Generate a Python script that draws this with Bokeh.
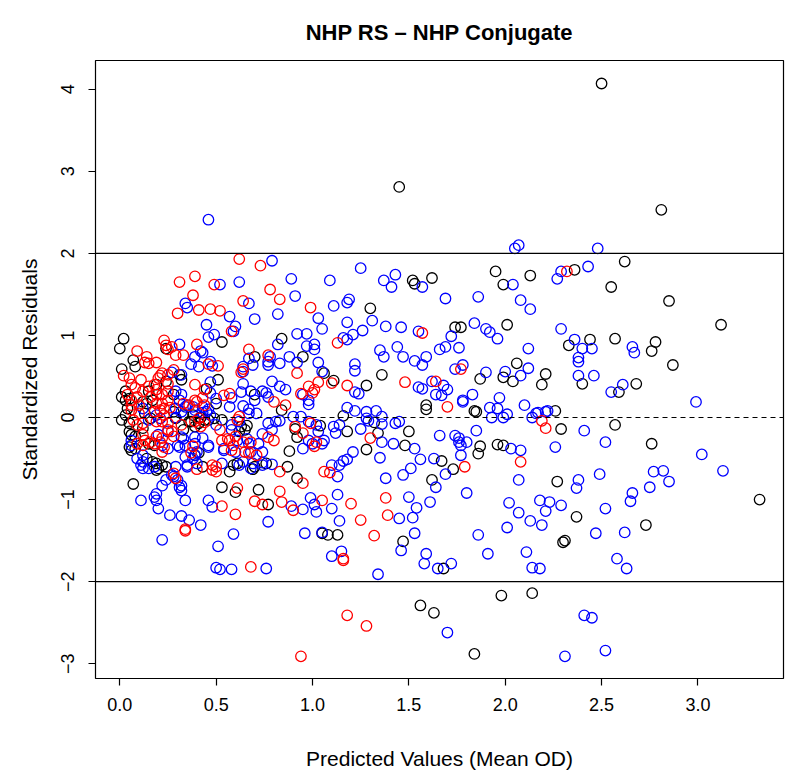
from bokeh.plotting import figure
from bokeh.models import Range1d, Span, FixedTicker, NumeralTickFormatter, CustomJSTickFormatter
from bokeh.embed import file_html
from bokeh.resources import INLINE

# ---- data (predicted value, standardized residual) per group ----
black_pts = [
 (2.50,4.07),(1.45,2.81),(2.81,2.53),
 (2.62,1.90),(2.36,1.80),(2.55,1.59),(2.85,1.42),(3.12,1.13),(2.44,0.95),(2.57,0.96),(2.33,0.88),
 (2.78,0.92),(2.76,0.81),(2.87,0.64),(2.21,0.53),(2.19,0.40),(2.40,0.41),(2.59,0.31),(2.68,0.41),
 (2.26,0.08),(2.29,-0.14),(2.57,-0.09),(2.76,-0.32),(3.32,-1.00),(2.27,-0.78),(2.37,-1.21),(2.73,-1.31),
 (2.30,-1.52),(2.31,-1.50),(1.98,-2.17),(2.14,-2.14),(1.56,-2.29),(1.63,-2.38),(1.84,-2.88),(1.68,-1.84),
 (1.52,1.67),(1.53,1.63),(1.62,1.70),(1.95,1.78),(1.99,1.62),(2.13,1.73),(1.30,1.33),(1.74,1.10),(1.77,1.10),
 (2.01,1.13),(1.06,0.54),(1.11,0.45),(1.28,0.39),(1.36,0.52),(1.87,0.47),(1.99,0.49),(2.04,0.44),(2.06,0.66),
 (1.59,0.15),(1.59,0.10),(1.84,0.08),(1.85,0.07),(1.16,0.02),(1.04,-0.10),(1.18,-0.17),(1.32,-0.06),(1.34,-0.19),
 (1.50,-0.17),(1.28,-0.39),(1.48,-0.34),(1.87,-0.35),(1.86,-0.44),(1.96,-0.33),(1.99,-0.34),(1.67,-0.53),
 (1.73,-0.63),(1.62,-0.76),(1.05,-1.41),(1.08,-1.43),(1.13,-1.43),(1.47,-1.51),
 (0.53,0.92),(0.84,0.96),(0.02,0.96),(0.00,0.84),(0.07,0.70),(0.08,0.62),(0.24,0.84),(0.31,0.52),(0.01,0.59),
 (0.51,0.46),(0.45,0.35),(0.70,0.74),(0.95,0.74),(0.19,0.40),(0.28,0.28),(0.84,0.09),(0.66,-0.10),(0.50,0.17),
 (0.37,-0.05),(0.39,-0.11),(0.41,-0.07),(0.28,0.07),(0.65,-0.15),(0.62,-0.17),(0.88,-0.41),(0.91,-0.14),
 (0.92,-0.24),(0.41,-0.43),(0.07,-0.81),(0.53,-0.85),(0.60,-0.91),(0.72,-0.88),(0.77,-1.06),(0.92,-0.74),
 (0.87,-0.60),(0.69,-0.63),(0.76,-0.56),(0.57,-0.66),(0.61,-0.56),(0.43,-0.60),
 (0.24,0.44),(0.32,0.46),(0.15,0.32),(0.03,0.32),(0.03,0.21),(0.05,0.23),(0.01,0.25),(0.12,0.19),(0.14,0.17),
 (0.17,0.21),(0.04,0.11),(0.03,0.03),(0.01,-0.03),(0.05,-0.07),(0.13,0.05),(0.16,-0.01),(0.12,-0.13),(0.29,-0.01),
 (0.05,-0.17),(0.06,-0.21),(0.08,-0.23),(0.05,-0.36),(0.06,-0.40),(0.08,-0.38),(0.15,-0.32),(0.18,-0.34),
 (0.14,-0.50),(0.17,-0.54),(0.19,-0.56),(0.22,-0.58),(0.24,-0.60),(0.20,-0.62),(0.19,-0.64),
 (0.70,0.28),(0.53,-0.03),(0.49,-0.01),(0.63,-0.11),(0.59,-0.58),(0.70,-0.60),(0.39,-0.46),(0.46,-0.03),
 (0.33,-0.15),(0.36,-0.05),(0.33,0.03),(0.38,0.03),(0.42,0.00),(0.44,-0.03),
]

blue_pts = [
 (0.46,2.41),(2.05,2.06),(2.07,2.10),(2.48,2.06),
 (2.29,1.78),(2.27,1.69),(2.43,1.84),(2.29,1.08),(2.36,0.95),(2.40,0.84),(2.45,0.84),(2.66,0.86),(2.67,0.79),
 (2.38,0.73),(2.38,0.68),(2.38,0.51),(2.46,0.51),(2.61,0.40),(2.55,0.31),(2.99,0.19),(2.17,0.06),(2.22,0.08),
 (2.41,-0.16),(2.26,-0.36),(2.52,-0.30),(3.02,-0.45),(3.13,-0.65),(2.38,-0.76),(2.37,-0.86),(2.49,-0.69),
 (2.77,-0.66),(2.82,-0.65),(2.85,-0.78),(2.75,-0.85),(2.66,-0.92),(2.65,-1.02),(2.18,-1.01),(2.23,-1.03),
 (2.29,-1.07),(2.21,-1.14),(2.19,-1.31),(2.52,-1.11),(2.47,-1.41),(2.62,-1.40),(2.58,-1.72),(2.63,-1.84),
 (2.18,-1.84),(2.41,-2.41),(2.45,-2.44),
 (0.50,-1.83),(0.52,-1.85),(0.58,-1.85),(0.76,-1.84),(1.34,-1.91),(1.58,-1.78),(1.65,-1.84),(1.72,-1.78),
 (2.14,-1.83),(1.70,-2.62),(2.31,-2.91),(2.52,-2.84),
 (1.18,0.12),(1.78,0.19),(1.92,0.12),(1.96,0.11),(1.93,0.00),(1.99,0.00),(2.01,0.04),(2.10,0.15),(2.16,0.05),
 (2.21,0.07),(2.14,0.00),(1.02,-0.09),(1.06,-0.28),(1.11,-0.11),(1.12,-0.19),(1.14,-0.09),(1.22,0.08),(1.28,0.07),
 (1.33,0.08),(1.25,-0.14),(1.28,-0.01),(1.29,-0.04),(1.36,0.01),(1.36,-0.08),(1.43,-0.07),(1.45,-0.05),
 (1.36,-0.30),(1.42,-0.32),(1.53,-0.38),(1.66,-0.22),(1.74,-0.22),(1.76,-0.25),(1.76,-0.30),(1.77,-0.34),
 (1.80,-0.30),(1.85,-0.16),(2.03,-0.38),(2.08,-0.40),(2.07,-0.76),
 (1.21,-0.42),(1.18,-0.51),(1.16,-0.53),(1.14,-0.58),(1.10,-0.58),(1.13,-0.72),(1.35,-0.49),(1.56,-0.51),
 (1.51,-0.62),(1.47,-0.70),(1.38,-0.74),(1.63,-0.50),(1.77,-0.46),(1.69,-0.69),(1.64,-0.85),(1.80,-0.92),
 (1.13,-0.94),(1.10,-1.11),(1.02,-1.15),(1.14,-1.26),(1.50,-0.97),(1.54,-1.10),(1.52,-1.22),(1.45,-1.23),
 (1.61,-1.03),(1.53,-1.41),(1.46,-1.62),(1.10,-1.69),(1.15,-1.63),(1.59,-1.66),(1.86,-1.43),(1.91,-1.66),
 (2.02,-1.04),(2.07,-1.16),(2.13,-1.26),(2.01,-1.34),(2.11,-1.64),
 (1.25,1.82),(1.09,1.67),(1.37,1.67),(1.41,1.59),(1.43,1.74),(1.57,1.59),(1.69,1.45),(2.04,1.62),(1.86,1.47),
 (2.08,1.43),(2.13,1.32),(1.11,1.36),(1.18,1.40),(1.19,1.44),(1.03,1.21),(1.05,1.08),(1.18,1.16),(1.26,1.06),
 (1.31,1.18),(1.38,1.11),(1.46,1.10),(1.55,1.05),(1.84,1.15),(1.90,1.08),(1.92,1.04),(1.96,0.96),(1.72,0.99),
 (1.16,0.97),(1.18,0.95),(1.21,1.01),(1.35,0.82),(1.37,0.74),(1.44,0.86),(1.47,0.74),(1.53,0.69),(1.57,0.64),
 (1.59,0.74),(1.66,0.83),(1.69,0.86),(1.76,0.85),(2.12,0.84),(1.22,0.65),(1.22,0.57),(1.22,0.31),(1.24,0.29),
 (1.55,0.37),(1.57,0.35),(1.62,0.44),(1.68,0.39),(1.70,0.34),(1.67,0.27),(1.64,0.28),(1.74,0.59),(1.78,0.64),
 (1.90,0.55),(2.00,0.56),(2.08,0.51),(2.12,0.60),(1.78,0.21),(1.83,0.28),(1.97,0.24),
 (0.79,1.91),(0.52,1.62),(0.62,1.65),(0.89,1.69),(0.91,1.48),(0.34,1.39),(0.35,1.34),(0.67,1.39),(0.82,1.26),
 (0.57,1.23),(0.70,1.20),(0.45,1.13),(0.60,1.11),(0.59,1.05),(0.49,1.01),(0.46,0.98),(0.92,1.02),(0.97,1.02),
 (1.01,0.89),(1.01,0.83),(0.82,0.89),(0.31,0.89),(0.42,0.81),(0.39,0.74),(0.41,0.62),(0.47,0.68),(0.48,0.63),
 (0.47,0.43),(0.47,0.30),(0.64,0.41),(0.67,0.72),(0.77,0.68),(0.77,0.64),(0.78,0.74),(0.83,0.66),(0.88,0.74),
 (0.92,0.67),(0.97,0.87),(1.03,0.67),(1.05,0.56),(0.79,0.44),(0.83,0.38),(0.86,0.34),(0.68,0.32),(0.70,0.21),
 (0.76,0.30),(0.77,0.25),(0.95,0.28),(0.98,0.21),(0.98,0.16),(0.50,0.23),(0.58,0.24),(0.63,0.31),(0.64,0.14),
 (0.67,0.10),(0.90,0.01),(0.94,0.01),(0.98,-0.05),(0.67,0.05),(0.62,-0.05),(0.58,-0.09),(0.50,-0.09),
 (0.32,0.07),(0.34,0.13),(0.38,0.13),(0.43,0.06),(0.46,0.10),(0.29,0.00),(0.98,-0.28),(1.03,-0.17),(0.72,-0.32),
 (0.67,-0.32),(0.74,-0.20),(0.77,-0.07),(0.81,-0.05),(0.83,-0.04),(0.79,-0.15),(0.95,-0.38),(0.46,-0.36),
 (0.34,-0.34),(0.30,-0.34),(0.39,-0.32),(0.43,-0.25),
 (0.43,0.79),(0.37,0.65),(0.69,0.64),(0.64,0.62),(0.64,0.56),(0.74,0.32),(0.57,0.13),(0.71,0.05),(0.58,-0.15),
 (0.61,-0.28),(0.66,-0.26),(0.54,-0.38),(0.60,-0.42),(0.68,-0.42),(0.74,-0.42),(0.74,-0.58),(0.69,-0.56),
 (0.68,-0.62),(0.62,-0.58),(0.53,-0.56),(0.40,-0.56),(0.38,-0.50),(0.35,-0.58),(0.34,-0.48),(0.33,-0.26),
 (0.32,-0.24),(0.39,-0.24),(0.35,0.15),(0.39,0.09),(0.43,0.13),(0.45,0.07),(0.47,0.03),
 (0.11,-1.01),(0.18,-0.97),(0.19,-1.01),(0.20,-1.11),(0.26,-1.19),(0.32,-1.20),(0.36,-1.25),(0.34,-1.01),
 (0.31,-0.85),(0.32,-0.89),(0.30,-0.76),(0.27,-0.70),(0.22,-1.49),(0.42,-1.31),(0.46,-1.01),(0.48,-1.09),
 (0.51,-1.57),(0.59,-1.42),(0.77,-1.27),(0.89,-1.08),(0.95,-1.12),(0.99,-0.98),(1.01,-1.06),(0.96,-1.41),
 (1.05,-1.40),(0.79,-0.57),(0.74,-0.55),(0.35,-0.60),(0.39,-0.46),(0.40,-0.42),(0.46,-0.34),(0.54,-0.40),
 (0.64,-0.54),(1.00,-0.32),(1.05,-0.32),
 (0.27,0.55),(0.32,0.52),(0.29,0.32),(0.32,0.28),(0.31,0.21),(0.12,0.11),(0.29,0.11),
 (0.15,-0.03),(0.19,0.03),(0.21,-0.01),(0.20,-0.21),(0.22,-0.34),(0.25,-0.17),(0.06,-0.28),(0.06,-0.34),
 (0.25,-0.38),(0.31,-0.36),(0.12,-0.46),(0.09,-0.50),(0.12,-0.54),(0.18,-0.60),(0.11,-0.58),(0.12,-0.62),
 (0.15,-0.62),(0.29,-0.60),(0.28,-0.72),(0.32,-0.83),(0.22,-0.83),(0.24,-0.76),(0.19,-0.93),
]

red_pts = [
 (0.62,1.93),(0.73,1.85),(0.31,1.65),(0.39,1.72),(0.49,1.62),(0.78,1.56),(0.38,1.49),(0.30,1.27),(0.41,1.31),
 (0.47,1.32),(0.52,1.30),(0.64,1.42),(0.83,1.44),(0.99,1.34),(0.58,1.05),(0.09,0.81),(0.14,0.74),(0.13,0.67),
 (0.19,0.67),(0.15,0.66),(0.23,0.94),(0.24,0.88),(0.27,0.86),(0.25,0.83),(0.29,0.76),(0.33,0.76),(0.40,0.89),
 (0.21,0.51),(0.25,0.52),(0.28,0.58),(0.22,0.54),(0.02,0.51),(0.05,0.48),(0.11,0.46),(0.20,0.48),(0.18,0.40),
 (0.15,0.38),(0.51,0.63),(0.39,0.40),(0.67,0.83),(0.63,0.55),(0.64,0.59),(0.77,0.76),(0.92,0.54),(0.98,0.38),
 (0.94,0.29),(1.00,0.30),(1.01,0.34),(1.03,0.43),(0.54,0.27),(0.57,0.29),(0.80,0.19),(0.86,0.15),(0.99,-0.07),
 (0.62,0.01),(0.52,-0.15),(0.39,0.21),(0.43,0.24),(0.39,-0.05),(0.44,-0.06),(0.25,0.41),(0.16,0.25),(0.19,0.28),
 (0.68,-0.30),(0.64,-0.30),(0.60,-0.23),(0.57,-0.28),(0.58,-0.40),(0.95,-0.19),(0.91,-0.11),(0.80,-0.28),
 (1.01,-0.35),(1.02,-0.30),(0.37,-0.43),(0.38,-0.35),
 (0.46,0.65),(0.44,0.34),(0.61,-0.03),(0.56,-0.26),(0.59,-0.34),(0.53,-0.28),(0.65,-0.42),(0.71,-0.46),
 (0.50,-0.60),(0.48,-0.64),(0.32,-0.09),(0.42,-0.11),(0.41,-0.01),(0.33,0.17),(0.36,0.15),(0.40,0.19),(0.44,0.15),
 (0.06,0.40),(0.08,0.36),(0.12,0.32),(0.19,0.34),(0.22,0.28),(0.25,0.32),(0.04,0.28),(0.06,0.21),(0.09,0.25),
 (0.10,0.15),(0.06,0.15),(0.19,0.17),(0.22,0.17),(0.25,0.21),(0.23,0.11),(0.26,0.12),
 (0.06,0.09),(0.10,0.05),(0.07,-0.03),(0.09,-0.09),(0.12,-0.07),(0.18,0.07),(0.21,0.09),(0.23,0.03),(0.19,-0.05),
 (0.22,-0.05),(0.25,-0.07),(0.25,-0.15),(0.27,-0.17),(0.28,-0.23),(0.22,-0.25),(0.19,-0.23),(0.12,-0.21),
 (0.13,-0.28),(0.16,-0.30),(0.18,-0.32),(0.21,-0.30),(0.09,-0.32),(0.12,-0.34),(0.23,-0.36),(0.22,-0.42),
 (0.28,-0.68),(0.29,-0.74),
 (0.34,-1.36),(0.34,-1.38),(0.53,-1.08),(0.61,-0.86),(0.60,-1.18),(0.70,-1.02),(0.74,-1.06),(0.83,-0.90),
 (0.84,-1.03),(0.90,-1.13),(0.95,-0.80),(1.06,-0.66),(0.83,-0.66),(0.50,-0.66),(0.48,-0.58),(0.40,-0.63),
 (0.67,-0.43),(0.77,-0.24),
 (0.68,-1.82),(1.16,-1.74),(1.18,-2.41),(1.28,-2.54),(0.94,-2.91),(1.70,0.13),(2.19,-0.04),(2.21,-0.13),
 (2.32,1.78),(1.30,-0.25),(2.08,-0.54),(1.09,-0.67),(1.79,-0.60),(1.05,-1.01),(1.20,-1.05),(1.25,-1.25),
 (1.38,-0.98),(1.39,-1.19),(1.32,-1.44),(1.16,-1.72),(1.57,1.03),(1.13,0.91),(1.10,0.42),(1.18,0.39),
 (1.48,0.43),(1.64,0.44),(1.77,0.59),
]

x_ticks = [0.0, 0.5, 1.0, 1.5, 2.0, 2.5, 3.0]
y_ticks = [-3, -2, -1, 0, 1, 2, 3, 4]
ref_lines = [-2, 2]
FONT = "Liberation Sans"

p = figure(width=787, height=776, output_backend="svg", toolbar_location=None,
           x_range=Range1d(-0.126, 3.444), y_range=Range1d(-3.18, 4.35),
           min_border_left=95, min_border_right=4, min_border_top=60, min_border_bottom=98,
           title="NHP RS \u2013 NHP Conjugate")

p.title.align = "center"
p.title.text_font = FONT
p.title.text_font_size = "22px"
p.title.text_font_style = "bold"
p.title.text_color = "black"
p.title.standoff = 31

p.grid.visible = False
p.outline_line_color = "black"
p.outline_line_width = 1.2
p.background_fill_color = "white"
p.border_fill_color = "white"

for ax in (p.xaxis[0], p.yaxis[0]):
    ax.axis_line_color = None
    ax.major_tick_in = 0
    ax.major_tick_out = 7
    ax.minor_tick_line_color = None
    ax.major_tick_line_color = "black"
    ax.major_tick_line_width = 1.2
    ax.major_label_text_font = FONT
    ax.major_label_text_font_size = "18px"
    ax.major_label_text_color = "black"
    ax.axis_label_text_font = FONT
    ax.axis_label_text_font_size = "21px"
    ax.axis_label_text_font_style = "normal"
    ax.axis_label_text_color = "black"

p.xaxis.ticker = FixedTicker(ticks=x_ticks)
p.xaxis.formatter = NumeralTickFormatter(format="0.0")
p.xaxis.major_label_standoff = 12
p.xaxis.axis_label = "Predicted Values (Mean OD)"
p.xaxis.axis_label_standoff = 33

p.yaxis.ticker = FixedTicker(ticks=y_ticks)
p.yaxis.formatter = CustomJSTickFormatter(code="return tick < 0 ? '\u2212' + Math.abs(tick) : String(tick);")
p.yaxis.major_label_orientation = "vertical"
p.yaxis.major_label_standoff = 14
p.yaxis.axis_label = "Standardized Residuals"
p.yaxis.axis_label_standoff = 18

for yv in ref_lines:
    p.add_layout(Span(location=yv, dimension="width", line_color="black", line_width=1.2))
p.add_layout(Span(location=0, dimension="width", line_color="black", line_width=1.2, line_dash="5 4"))

for pts, col in ((black_pts, "black"), (blue_pts, "#0000FF"), (red_pts, "#FF0000")):
    xs = [a for a, b in pts]
    ys = [b for a, b in pts]
    p.scatter(xs, ys, marker="circle", size=10.5, fill_color=None, line_color=col, line_width=1.3)

open("out.html", "w").write(file_html(p, INLINE))
